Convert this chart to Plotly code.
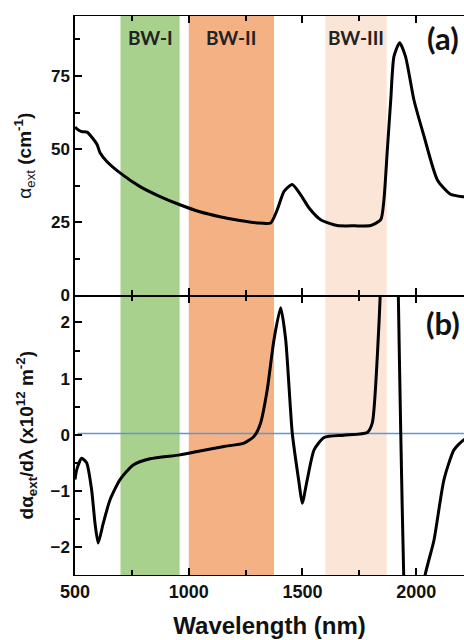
import plotly.graph_objects as go
from plotly.subplots import make_subplots

# ---- data ----
wl_a = [500, 507, 529, 553, 575, 597, 610, 640, 698, 786, 874, 961, 1049, 1137, 1225,
        1301, 1360, 1389, 1419, 1455, 1492, 1529, 1580, 1653, 1730, 1800, 1844, 1858,
        1873, 1888, 1902, 1927, 1953, 1990, 2034, 2093, 2151, 2210, 2240]
alpha = [57.6, 57.0, 56.0, 55.8, 54.0, 51.6, 48.8, 45.8, 41.9, 37.2, 33.8, 31.0, 28.6, 26.9, 25.6,
         24.8, 24.8, 29.3, 35.6, 37.9, 34.4, 29.9, 25.9, 23.9, 23.8, 23.9, 25.9, 32.7,
         49.8, 66.8, 81.6, 86.4, 81.6, 66.8, 54.5, 39.5, 34.6, 33.7, 33.5]

wl_b = [500, 507, 529, 551, 573, 588, 602, 624, 654, 698, 756, 830, 961, 1049, 1155, 1243,
        1287, 1316, 1345, 1375, 1404, 1426, 1455, 1485, 1499, 1521, 1551, 1595, 1682,
        1785, 1807, 1829, 1844, 1860, 1890, 1910, 1920, 1932, 1946, 1965, 2000, 2034,
        2078, 2122, 2166, 2210, 2240]
dalpha = [-0.80, -0.63, -0.42, -0.50, -0.98, -1.58, -1.93, -1.58, -1.16, -0.80, -0.54, -0.43,
          -0.36, -0.29, -0.21, -0.15, -0.03, 0.21, 0.80, 1.70, 2.26, 1.70, 0.03, -0.86, -1.22,
          -0.80, -0.27, -0.05, -0.01, 0.04, 0.21, 1.40, 2.70, 5.0, 9.0, 6.0, 2.8, 0.03, -2.7,
          -5.0, -4.6, -2.6, -1.88, -0.80, -0.27, -0.09, -0.05]

bands = [("BW-I", 700, 960, "#a9d18e"), ("BW-II", 1000, 1375, "#f4b183"), ("BW-III", 1600, 1870, "#fbe5d6")]
x_range = [500, 2210]

fig = make_subplots(rows=2, cols=1, shared_xaxes=True, vertical_spacing=0)

fig.add_trace(go.Scatter(x=wl_a, y=alpha, mode="lines", line=dict(color="black", width=3, shape="spline", smoothing=0.6),
                         showlegend=False, hoverinfo="skip"), row=1, col=1)
fig.add_trace(go.Scatter(x=[x_range[0] + 12, 2240], y=[0.02, 0.02], mode="lines", line=dict(color="#5b9bd5", width=1.5),
                         showlegend=False, hoverinfo="skip"), row=2, col=1)
fig.add_trace(go.Scatter(x=wl_b, y=dalpha, mode="lines", line=dict(color="black", width=3, shape="spline", smoothing=0.6),
                         showlegend=False, hoverinfo="skip"), row=2, col=1)

for name, x0, x1, col in bands:
    fig.add_shape(type="rect", xref="x", yref="paper", x0=x0, x1=x1, y0=0, y1=1,
                  fillcolor=col, line=dict(width=0), layer="below")
    fig.add_annotation(x=(x0 + x1) / 2, y=0.962, xref="x", yref="paper", text="<b>" + name + "</b>",
                       xanchor="center", yanchor="middle",
                       showarrow=False, font=dict(family="Lato", size=19, color="#222222"))

fig.add_annotation(x=0.946, y=0.96, xref="paper", yref="paper", text="<b>(a)</b>", showarrow=False,
                   xanchor="center", yanchor="middle", font=dict(family="Lato", size=31, color="#111111"))
fig.add_annotation(x=0.946, y=0.451, xref="paper", yref="paper", text="<b>(b)</b>", showarrow=False,
                   xanchor="center", yanchor="middle", font=dict(family="Lato", size=31, color="#111111"))

tickfont = dict(family="Liberation Sans, Arial", size=17, color="#111111", weight="bold")
xcommon = dict(range=x_range, showline=True, linecolor="black", linewidth=1.2, mirror="ticks",
               ticks="inside", ticklen=7, tickwidth=1.5, tickcolor="black", tick0=500, dtick=500,
               minor=dict(ticks="inside", ticklen=5, tickwidth=1.5, tickcolor="black", dtick=250),
               showgrid=False, zeroline=False)
fig.update_xaxes(**xcommon)
fig.update_xaxes(showticklabels=False, row=1, col=1)
fig.update_xaxes(tickfont=dict(family="Liberation Sans, Arial", size=18, color="#111111", weight="bold"),
                 title=dict(text="Wavelength (nm)",
                            font=dict(family="Liberation Sans, Arial", size=24, color="#111111", weight="bold"),
                            standoff=16), row=2, col=1)

ycommon = dict(showline=True, linecolor="black", linewidth=1.5, ticks="inside", ticklen=7, tickwidth=1.5,
               tickcolor="black", showgrid=False, zeroline=False, tickfont=tickfont)
fig.update_yaxes(**ycommon)
fig.update_yaxes(range=[0, 95.5], tickvals=[0, 25, 50, 75],
                 minor=dict(ticks="inside", ticklen=5, tickwidth=1.5, tickcolor="black", tickvals=[12.5, 37.5, 62.5, 87.5]),
                 title=dict(text="α<sub>ext</sub> <b>(cm<sup>-1</sup>)</b>",
                            font=dict(family="Liberation Sans, Arial", size=19, color="#111111"), standoff=14),
                 row=1, col=1)
fig.update_yaxes(range=[-2.5, 2.48], tickvals=[-2, -1, 0, 1, 2],
                 minor=dict(ticks="inside", ticklen=5, tickwidth=1.5, tickcolor="black", tickvals=[-1.5, -0.5, 0.5, 1.5]),
                 title=dict(text="<b>dα<sub>ext</sub>/dλ (x10<sup>12</sup> m<sup>-2</sup>)</b>",
                            font=dict(family="Liberation Sans, Arial", size=19, color="#111111"), standoff=12),
                 row=2, col=1)

fig.update_layout(width=464, height=640, margin=dict(l=75, r=0, t=16, b=65),
                  plot_bgcolor="white", paper_bgcolor="white", showlegend=False, hovermode=False)

# remove the default page margin so the 464x640 figure fills the window exactly
fig.write_html("out.html", config={"displayModeBar": False},
               post_script="document.body.style.margin='0';document.documentElement.style.overflow='hidden';")
